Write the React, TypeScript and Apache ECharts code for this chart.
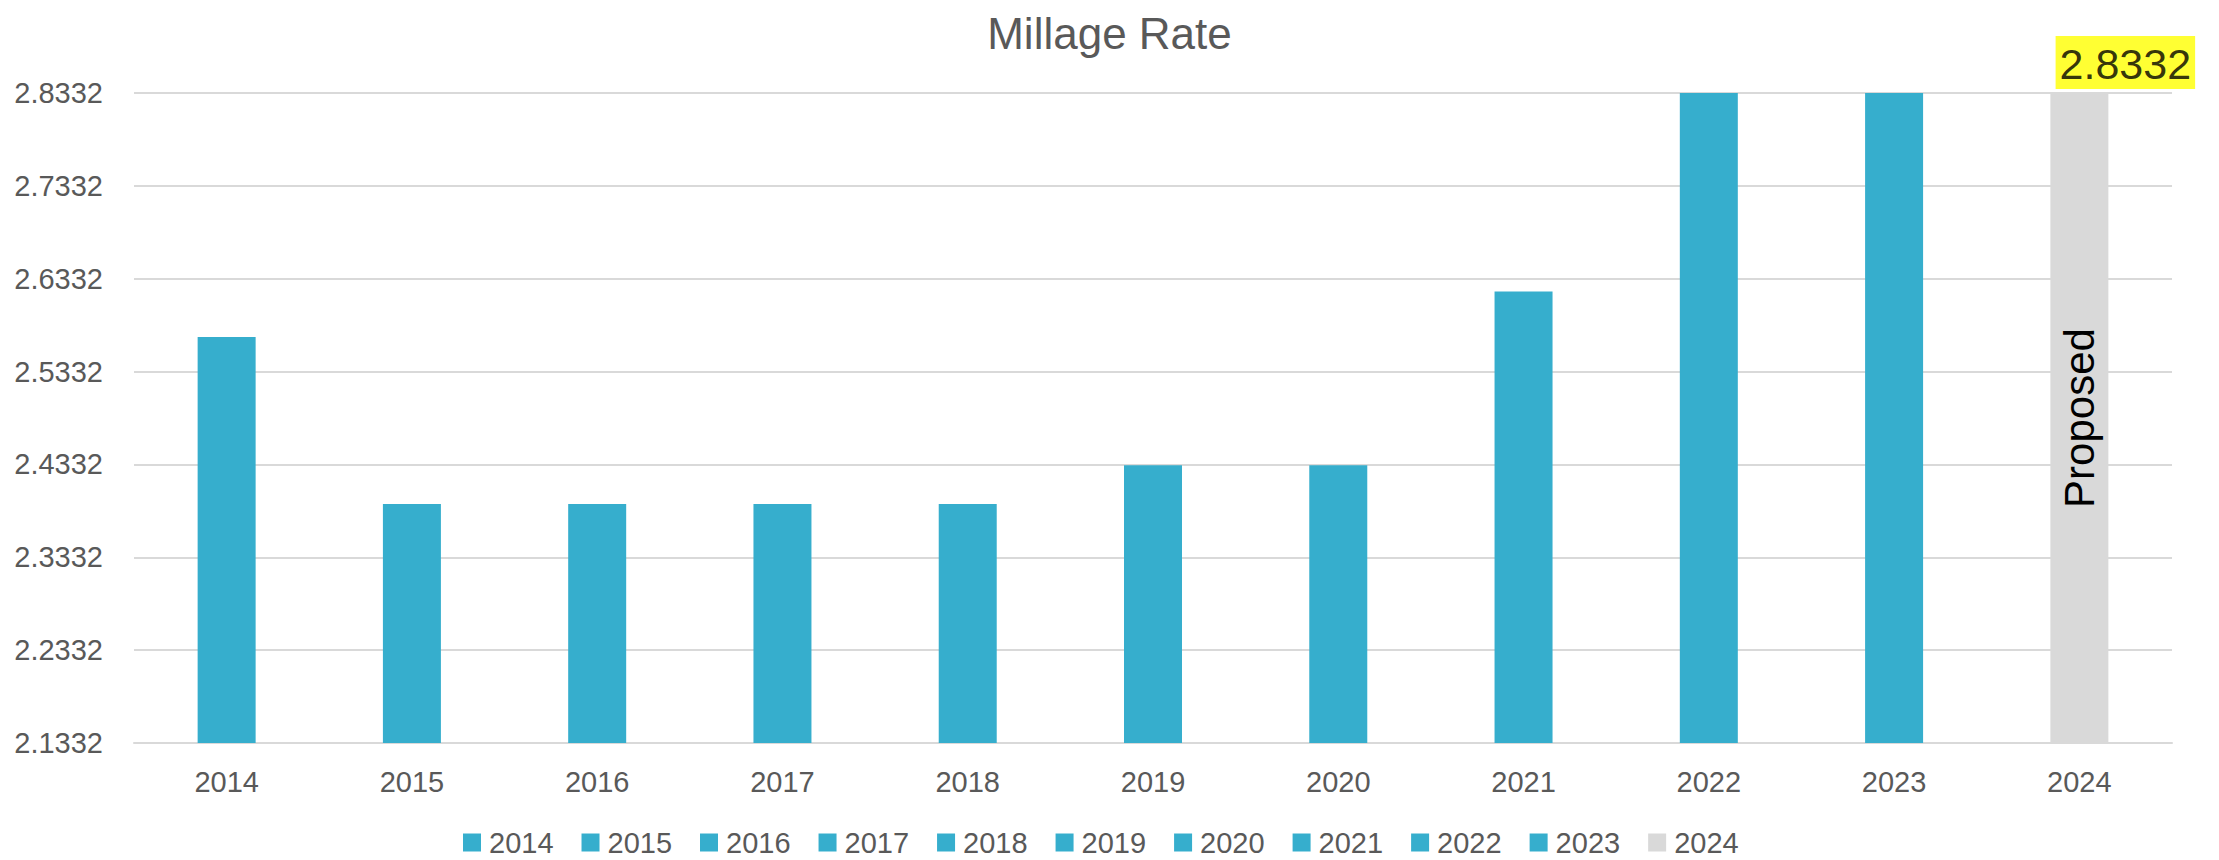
import React, { useEffect, useRef } from "react";
import * as echarts from "echarts";

const years = ["2014", "2015", "2016", "2017", "2018", "2019", "2020", "2021", "2022", "2023", "2024"];
const rates = [2.5703, 2.3906, 2.3906, 2.3906, 2.3906, 2.4322, 2.4322, 2.6195, 2.8332, 2.8332, 2.8332];
const barColors = ["#36aecd", "#36aecd", "#36aecd", "#36aecd", "#36aecd", "#36aecd", "#36aecd", "#36aecd", "#36aecd", "#36aecd", "#d9d9d9"];
const axisBase = 2.1332;
const axisSpan = 0.7;
const axisStep = 0.1;
const proposedLabel = "Proposed";

const FONT = "'Liberation Sans', Arial, sans-serif";

export default function App() {
  const ref = useRef<HTMLDivElement>(null);
  useEffect(() => {
    if (!ref.current) return;
    const chart = echarts.init(ref.current, undefined, { renderer: "svg" });
    const last = years.length - 1;
    const barSeries = years.map((y, i) => ({
      name: y,
      type: "bar",
      barWidth: 58,
      barGap: "-100%",
      itemStyle: { color: barColors[i] },
      data: years.map((_, j) => (j === i ? rates[i] - axisBase : null)),
      label:
        i === last
          ? {
              show: true,
              position: "inside",
              rotate: 90,
              formatter: proposedLabel,
              color: "#000",
              fontSize: 42,
              fontFamily: FONT,
            }
          : { show: false },
    }));
    chart.setOption({
      animation: false,
      title: {
        text: "Millage Rate",
        left: "center",
        top: 0,
        padding: 0,
        textStyle: { color: "#595959", fontSize: 44, lineHeight: 50, fontWeight: "normal", fontFamily: FONT },
      },
      legend: {
        data: years,
        left: 450,
        top: 815,
        icon: "rect",
        itemWidth: 18,
        itemHeight: 18,
        itemGap: 28,
        selectedMode: false,
        textStyle: { color: "#595959", fontSize: 29, fontFamily: FONT, padding: [0, 0, 0, 3] },
      },
      grid: { left: 126, right: 39, top: 85, height: 650 },
      xAxis: {
        type: "category",
        data: years,
        axisTick: { show: false },
        axisLine: { lineStyle: { color: "#d9d9d9", width: 2 } },
        axisLabel: { color: "#595959", fontSize: 29, fontFamily: FONT, margin: 24 },
      },
      yAxis: {
        type: "value",
        min: 0,
        max: axisSpan,
        interval: axisStep,
        axisLine: { show: false },
        axisTick: { show: false },
        splitLine: { lineStyle: { color: "#d9d9d9", width: 2 } },
        axisLabel: {
          color: "#595959",
          fontSize: 29,
          fontFamily: FONT,
          margin: 31,
          formatter: (v: number) => (v + axisBase).toFixed(4),
        },
      },
      series: [
        ...barSeries,
        {
          name: "value-label",
          type: "scatter",
          symbolSize: 0,
          data: [[years[last], rates[last] - axisBase]],
          label: {
            show: true,
            position: "top",
            distance: 4,
            offset: [46, 0],
            formatter: () => rates[last].toFixed(4),
            color: "#000",
            fontSize: 43,
            fontFamily: FONT,
            backgroundColor: "#ffff00",
            padding: [6, 4, 4, 4],
          },
        },
      ],
    });
    return () => chart.dispose();
  }, []);
  return <div ref={ref} style={{ width: 2203, height: 852 }} />;
}
